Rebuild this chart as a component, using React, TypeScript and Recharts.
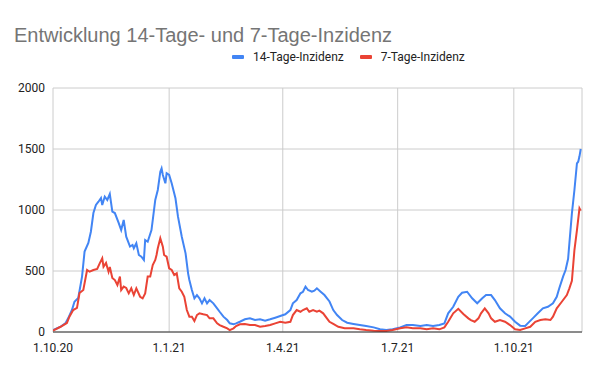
import React from 'react';
import { LineChart, Line, XAxis, YAxis, CartesianGrid } from 'recharts';

// days since 1.10.20
const tickDays = [0, 92, 182, 273, 365];
const tickLabels = ['1.10.20', '1.1.21', '1.4.21', '1.7.21', '1.10.21'];
const yTicks = [0, 500, 1000, 1500, 2000];

const days14 = [
  0, 6, 10, 12, 15, 17, 20, 23, 25, 28, 30, 32, 34, 36, 38, 39, 41, 43, 45, 47, 49, 52, 54, 56, 58,
  61, 63, 64, 66, 68, 70, 72, 73, 75, 78, 79, 81, 83, 85, 86, 87, 89, 90, 92, 94, 96, 97, 99, 101,
  102, 105, 107, 108, 110, 112, 114, 116, 118, 120, 122, 124, 127, 130, 132, 135, 138, 140, 143,
  145, 148, 152, 156, 160, 164, 168, 172, 176, 180, 184, 188, 190, 193, 196, 198, 200, 202, 205,
  207, 209, 212, 215, 219, 222, 225, 229, 233, 238, 243, 248, 254, 259, 264, 269, 275, 280, 285,
  291, 296, 301, 306, 310, 313, 317, 321, 324, 328, 332, 336, 340, 343, 347, 350, 354, 358, 362,
  366, 370, 374, 376, 380, 384, 388, 392, 396, 399, 401, 404, 406, 408, 409, 411, 413, 415, 416,
  417, 418,
];
const inz14 = [
  16, 43, 74, 112, 180, 248, 279, 454, 659, 730, 822, 975, 1041, 1068, 1098, 1041, 1110, 1082, 1131,
  987, 975, 894, 836, 918, 781, 700, 713, 686, 727, 631, 617, 590, 754, 740, 836, 918, 1082, 1164,
  1314, 1341, 1287, 1219, 1301, 1287, 1219, 1137, 1096, 945, 836, 781, 645, 481, 426, 344, 276, 303,
  276, 235, 276, 235, 262, 235, 194, 166, 126, 98, 71, 63, 71, 84, 104, 112, 98, 104, 93, 104, 117,
  131, 145, 180, 235, 262, 317, 330, 372, 344, 330, 339, 358, 330, 303, 250, 180, 139, 98, 76, 66,
  57, 49, 38, 22, 16, 22, 38, 57, 57, 49, 57, 49, 57, 71, 153, 207, 289, 322, 330, 276, 235, 276,
  303, 303, 262, 194, 153, 126, 84, 52, 49, 71, 112, 153, 194, 207, 235, 289, 358, 454, 508, 600,
  727, 973, 1164, 1383, 1396, 1440, 1500,
];

const days7 = [
  0, 6, 11, 13, 16, 19, 21, 24, 27, 29, 32, 35, 37, 39, 40, 42, 44, 45, 47, 49, 51, 53, 54, 56, 58,
  60, 62, 64, 66, 69, 71, 73, 75, 77, 79, 81, 82, 83, 85, 87, 88, 90, 92, 94, 96, 98, 100, 102, 104,
  106, 108, 110, 112, 114, 116, 119, 122, 124, 127, 130, 132, 135, 138, 140, 143, 145, 148, 152,
  156, 160, 164, 168, 172, 176, 180, 184, 188, 190, 193, 196, 198, 201, 203, 206, 209, 211, 214,
  218, 219, 222, 226, 231, 238, 243, 248, 254, 259, 264, 269, 275, 280, 285, 291, 296, 301, 306,
  310, 313, 317, 321, 325, 329, 331, 334, 337, 339, 342, 345, 347, 350, 354, 358, 362, 366, 370,
  374, 378, 382, 386, 390, 394, 396, 399, 403, 407, 409, 411, 413, 415, 417, 418,
];
const inz7 = [
  11, 43, 74, 126, 180, 197, 320, 344, 508, 494, 508, 517, 563, 604, 535, 566, 494, 533, 443, 426,
  385, 454, 344, 372, 361, 317, 358, 303, 358, 289, 276, 317, 454, 454, 549, 590, 631, 686, 768, 700,
  631, 617, 522, 508, 467, 481, 358, 330, 289, 180, 126, 126, 90, 139, 153, 145, 139, 112, 112, 71,
  57, 43, 30, 16, 30, 49, 63, 66, 57, 57, 43, 49, 57, 71, 84, 76, 84, 139, 180, 166, 180, 194, 166,
  180, 166, 175, 153, 98, 84, 66, 43, 30, 30, 22, 16, 11, 8, 8, 16, 30, 38, 30, 30, 22, 30, 22, 38,
  84, 153, 190, 148, 112, 98, 84, 112, 153, 194, 153, 112, 84, 98, 84, 57, 22, 16, 30, 43, 84, 98,
  104, 98, 126, 194, 248, 303, 358, 420, 672, 836, 1014, 995,
];

const data14 = days14.map((d, i) => ({ day: d, value: inz14[i] }));
const data7 = days7.map((d, i) => ({ day: d, value: inz7[i] }));

const BLUE = '#4285f4';
const RED = '#ea4335';
const font = 'Roboto, "Liberation Sans", Arial, sans-serif';

const App: React.FC = () => {
  return (
    <div style={{ position: 'absolute', left: 0, top: 0, width: 600, height: 371, background: '#fff', fontFamily: font }}>
      <div style={{ position: 'absolute', left: 14, top: 24, fontSize: 20, color: '#757575', fontFamily: '"Liberation Sans", Arial, sans-serif' }}>
        Entwicklung 14-Tage- und 7-Tage-Inzidenz
      </div>
      <div style={{ position: 'absolute', left: 232, top: 50, display: 'flex', alignItems: 'center', fontSize: 12, color: '#222' }}>
        <span style={{ display: 'inline-block', width: 12, height: 4, background: BLUE, borderRadius: 1, marginRight: 9 }} />
        <span>14-Tage-Inzidenz</span>
        <span style={{ display: 'inline-block', width: 12, height: 4, background: RED, borderRadius: 1, marginLeft: 16, marginRight: 9 }} />
        <span>7-Tage-Inzidenz</span>
      </div>
      <LineChart width={600} height={371} margin={{ top: 88, right: 18, left: 0, bottom: 0 }}>
        <CartesianGrid stroke="#cccccc" />
        <XAxis
          dataKey="day"
          type="number"
          domain={[0, 419]}
          ticks={tickDays}
          tickFormatter={(v: number) => tickLabels[tickDays.indexOf(v)] ?? ''}
          allowDataOverflow
          height={39}
          axisLine={{ stroke: '#333' }}
          tickLine={false}
          tickSize={0}
          tickMargin={11}
          tick={{ fill: '#222', fontSize: 12, fontFamily: font }}
        />
        <YAxis
          type="number"
          domain={[0, 2000]}
          ticks={yTicks}
          width={53}
          axisLine={false}
          tickLine={false}
          tickSize={0}
          tickMargin={8}
          tick={{ fill: '#222', fontSize: 12, fontFamily: font }}
        />
        <Line data={data14} dataKey="value" type="linear" stroke={BLUE} strokeWidth={2} dot={false} isAnimationActive={false} />
        <Line data={data7} dataKey="value" type="linear" stroke={RED} strokeWidth={2} dot={false} isAnimationActive={false} />
      </LineChart>
    </div>
  );
};

export default App;
